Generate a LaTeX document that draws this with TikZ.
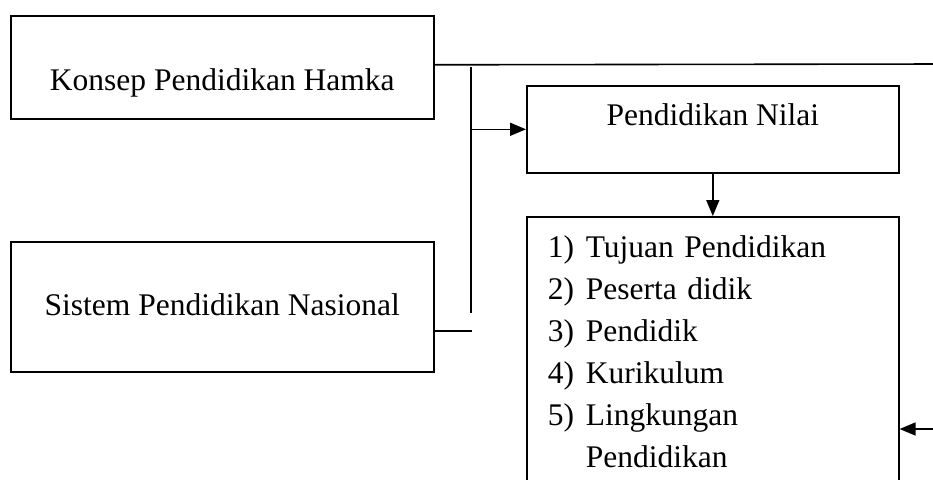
\documentclass[tikz,border=0pt]{standalone}
\usepackage{fontspec}
\setmainfont{Liberation Serif}
\usetikzlibrary{arrows.meta}

\begin{document}
\begin{tikzpicture}[x=1pt,y=-1pt,line width=1.6pt,
    kotak/.style={draw,inner sep=0pt,font=\fontsize{31.5}{42}\selectfont},
    panah/.style={-{Triangle[length=16pt,width=13pt]}}]
    \useasboundingbox (0,0) rectangle (933,479);
    \clip (0,0) rectangle (933,479);
    \node[kotak,anchor=north west,minimum width=423pt,text height=75pt,text depth=28pt] (konsep) at (10,15) {Konsep Pendidikan Hamka};
    \node[kotak,anchor=north west,minimum width=423pt,text height=74pt,text depth=56pt] (sistem) at (10,241) {Sistem Pendidikan Nasional};
    \node[kotak,anchor=north west,minimum width=372pt,text height=40pt,text depth=47pt] (nilai) at (526,85) {Pendidikan Nilai};
    \node[kotak,anchor=north west,inner xsep=21pt,text width=330pt,align=left,text height=41pt,text depth=260pt] (unsur) at (526,216)
      {\makebox[38pt][l]{1)}Tujuan Pendidikan\\\makebox[38pt][l]{2)}Peserta didik\\\makebox[38pt][l]{3)}Pendidik\\\makebox[38pt][l]{4)}Kurikulum\\\makebox[38pt][l]{5)}Lingkungan\\\makebox[38pt][l]{}Pendidikan};
    \coordinate (kanan) at (945,64);
    \coordinate (balik) at (945,429);
    \coordinate (atas) at (471,67);
    \coordinate (bawah) at (471,313);
    \coordinate (ujung) at (472,331);
    \draw ([yshift=2.5pt]konsep.east) -- (kanan) -- (balik);
    \draw[panah] (balik) -- (balik -| unsur.east);
    \draw (atas) -- (bawah);
    \draw[panah] (atas |- nilai.west) -- (nilai.west);
    \draw (ujung -| sistem.east) -- (ujung);
    \draw[panah] (nilai.south) -- (unsur.north);
\end{tikzpicture}
\end{document}
